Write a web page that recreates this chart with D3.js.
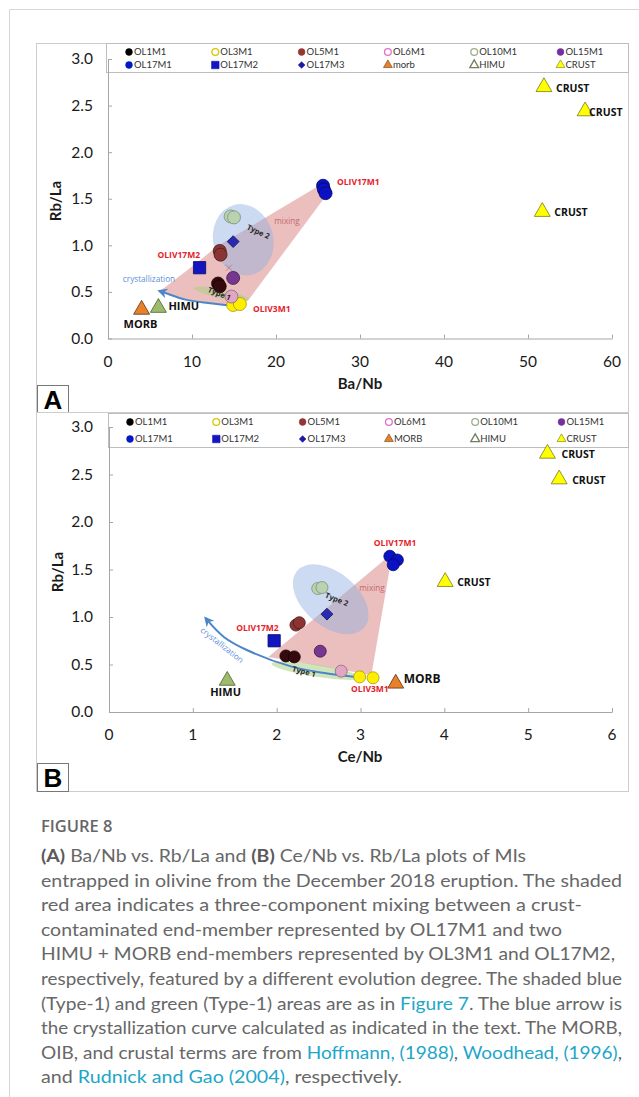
<!DOCTYPE html>
<html>
<head>
<meta charset="utf-8">
<script src="https://cdn.jsdelivr.net/npm/d3@7"></script>
<style>
  html, body { margin: 0; padding: 0; background: #fff; }
  svg { display: block; }
</style>
</head>
<body>
<svg id="fig" width="639" height="1097"></svg>
<script>
// ---------------- data ----------------
const sampleNames = ["OL1M1", "OL3M1", "OL5M1", "OL6M1", "OL10M1", "OL15M1", "OL17M1", "OL17M2", "OL17M3"];
const legendNamesA = ["OL1M1", "OL3M1", "OL5M1", "OL6M1", "OL10M1", "OL15M1", "OL17M1", "OL17M2", "OL17M3", "morb", "HIMU", "CRUST"];
const legendNamesB = ["OL1M1", "OL3M1", "OL5M1", "OL6M1", "OL10M1", "OL15M1", "OL17M1", "OL17M2", "OL17M3", "MORB", "HIMU", "CRUST"];
const yTicks = [0, 0.5, 1.0, 1.5, 2.0, 2.5, 3.0];
const xTicksA = [0, 10, 20, 30, 40, 50, 60];
const xTicksB = [0, 1, 2, 3, 4, 5, 6];

// Panel A: Ba/Nb (x) vs Rb/La (y)
const A_OL1M1  = [[13.1, 0.59], [13.3, 0.56]];
const A_OL3M1  = [[14.9, 0.36], [15.7, 0.37]];
const A_OL5M1  = [[13.3, 0.94], [13.4, 0.90]];
const A_OL6M1  = [[14.7, 0.45]];
const A_OL10M1 = [[14.6, 1.31], [15.0, 1.30]];
const A_OL15M1 = [[14.9, 0.65]];
const A_OL17M1 = [[25.6, 1.64], [25.7, 1.60], [25.9, 1.56]];
const A_OL17M2 = [[10.9, 0.76]];
const A_OL17M3 = [[14.9, 1.04]];
const A_MORB   = [[4.0, 0.31]];
const A_HIMU   = [[6.0, 0.33]];
const A_CRUST  = [[51.9, 2.70], [56.8, 2.44], [51.7, 1.36]];
const A_mixCross = [[14.4, 0.76]];
const A_mixArea = [[6.2, 0.51], [10.4, 0.80], [13.0, 0.99], [25.5, 1.66], [26.1, 1.55], [16.7, 0.41], [14.9, 0.35], [11.9, 0.38], [9.1, 0.42], [7.1, 0.48]];
const A_crystCurve = [[14.9, 0.35], [11.9, 0.38], [9.1, 0.42], [7.1, 0.48], [6.1, 0.51]];
const A_type2Centre = [16.1, 1.06];
const A_type1Centre = [13.5, 0.48];

// Panel B: Ce/Nb (x) vs Rb/La (y)
const B_OL1M1  = [[2.11, 0.59], [2.21, 0.58]];
const B_OL3M1  = [[2.99, 0.37], [3.15, 0.36]];
const B_OL5M1  = [[2.23, 0.915], [2.27, 0.94]];
const B_OL6M1  = [[2.77, 0.43]];
const B_OL10M1 = [[2.49, 1.30], [2.54, 1.31]];
const B_OL15M1 = [[2.52, 0.64]];
const B_OL17M1 = [[3.35, 1.64], [3.44, 1.60], [3.39, 1.55]];
const B_OL17M2 = [[1.97, 0.75]];
const B_OL17M3 = [[2.60, 1.03]];
const B_MORB   = [[3.42, 0.30]];
const B_HIMU   = [[1.41, 0.33]];
const B_CRUST  = [[5.23, 2.72], [5.37, 2.45], [4.01, 1.37]];
const B_mixArea = [[1.90, 0.58], [3.38, 1.67], [3.13, 0.39]];
const B_crystCurve = [[2.97, 0.365], [2.57, 0.41], [2.17, 0.48], [1.65, 0.65], [1.37, 0.79], [1.15, 0.99]];
const B_type2Centre = [2.645, 1.186];
const B_type1Centre = [2.47, 0.435];

// ---------------- styles ----------------
const sampleStyle = {
  OL1M1:  { shape: "circle",  fill: "#330a0e", stroke: "#1a0000", legFill: "#000",    legStroke: "#000" },
  OL3M1:  { shape: "circle",  fill: "#ffee00", stroke: "#a89a00", legFill: "#fff",    legStroke: "#d8c800" },
  OL5M1:  { shape: "circle",  fill: "#8a3434", stroke: "#4a1a1a", legFill: "#943634", legStroke: "#943634" },
  OL6M1:  { shape: "circle",  fill: "#e3a5c4", stroke: "#8a6a7a", legFill: "#fff",    legStroke: "#e070d0" },
  OL10M1: { shape: "circle",  fill: "#b9d3b1", stroke: "#7e8f78", legFill: "#fff",    legStroke: "#9aae90" },
  OL15M1: { shape: "circle",  fill: "#78378e", stroke: "#3e1a4e", legFill: "#7030a0", legStroke: "#7030a0" },
  OL17M1: { shape: "circle",  fill: "#0a12c4", stroke: "#06086a", legFill: "#0018c8", legStroke: "#0018c8" },
  OL17M2: { shape: "square",  fill: "#1414c0", stroke: "#08086a", legFill: "#1414c0", legStroke: "#1414c0" },
  OL17M3: { shape: "diamond", fill: "#2a2ab4", stroke: "#14145a", legFill: "#1a1aa8", legStroke: "#1a1aa8" },
  MORB:   { shape: "triangle", fill: "#e8812c", stroke: "#5a3010", legFill: "#e8812c", legStroke: "#6a3a10" },
  HIMU:   { shape: "triangle", fill: "#9dbb6a", stroke: "#4e5e36", legFill: "#fff",    legStroke: "#6f7f5f" },
  CRUST:  { shape: "triangle", fill: "#ffff00", stroke: "#7a7a20", legFill: "#ffff00", legStroke: "#6a7a20" }
};
const legendStyleKeys = ["OL1M1", "OL3M1", "OL5M1", "OL6M1", "OL10M1", "OL15M1", "OL17M1", "OL17M2", "OL17M3", "MORB", "HIMU", "CRUST"];

const FONT = "Lato, 'Open Sans', sans-serif";
const svg = d3.select("#fig");

// page container edge
svg.append("path").attr("d", "M9.5,1097V9.5H639").attr("fill", "none").attr("stroke", "#d6d6d6");

const defs = svg.append("defs");
defs.append("marker").attr("id", "arrowHead").attr("viewBox", "0 0 10 10")
  .attr("refX", 8).attr("refY", 5).attr("markerWidth", 5).attr("markerHeight", 5)
  .attr("orient", "auto-start-reverse")
  .append("path").attr("d", "M0,0L10,5L0,10L3,5Z").attr("fill", "#4a86c8");

function symbolPath(shape, size) {
  if (shape === "square") return d3.symbol(d3.symbolSquare, size)();
  if (shape === "diamond") return d3.symbol(d3.symbolSquare, size)();
  if (shape === "triangle") return d3.symbol(d3.symbolTriangle, size)();
  return d3.symbol(d3.symbolCircle, size)();
}

function drawPanel(cfg) {
  const g = svg.append("g");
  const [fx0, fy0, fx1, fy1] = cfg.frame;
  g.append("rect").attr("x", fx0 + 0.5).attr("y", fy0 + 0.5)
    .attr("width", fx1 - fx0).attr("height", fy1 - fy0)
    .attr("fill", "#fff").attr("stroke", "#cdcdcd");

  const x = d3.scaleLinear().domain(cfg.xDomain).range([cfg.plot.x0, cfg.plot.x1]);
  const y = d3.scaleLinear().domain([0, 3]).range([cfg.plot.y0, cfg.plot.y1]);
  const line = d3.line().x(d => x(d[0])).y(d => y(d[1]));

  // legend box
  const [lx0, ly0, lx1, ly1] = cfg.legendBox;
  g.append("rect").attr("x", lx0 + 0.5).attr("y", ly0 + 0.5)
    .attr("width", lx1 - lx0).attr("height", ly1 - ly0)
    .attr("fill", "#fff").attr("stroke", "#bdbdbd");
  cfg.legendNames.forEach((name, i) => {
    const col = i % 6, row = Math.floor(i / 6);
    const cx = cfg.legendX0 + col * cfg.legendDx;
    const cy = cfg.legendRows[row];
    const st = sampleStyle[legendStyleKeys[i]];
    const size = st.shape === "circle" ? 36 : st.shape === "square" ? 56 : st.shape === "diamond" ? 22 : 34;
    g.append("path").attr("d", symbolPath(st.shape, size))
      .attr("transform", `translate(${cx},${cy})` + (st.shape === "diamond" ? " rotate(45)" : ""))
      .attr("fill", st.legFill).attr("stroke", st.legStroke)
      .attr("stroke-width", st.legFill === "#fff" ? 1.3 : 0.6);
    g.append("text").attr("x", cx + 5).attr("y", cy).attr("dy", "0.35em")
      .attr("font-family", FONT).attr("font-size", 9.5).attr("fill", "#333")
      .text(name);
  });

  // shaded areas
  g.append("path").attr("d", line(cfg.mixArea) + "Z")
    .attr("fill", "#d97f7f").attr("fill-opacity", 0.5);
  const e2 = cfg.type2;
  g.append("ellipse").attr("cx", x(e2.c[0])).attr("cy", y(e2.c[1]))
    .attr("rx", e2.rx).attr("ry", e2.ry)
    .attr("transform", `rotate(${e2.rot},${x(e2.c[0])},${y(e2.c[1])})`)
    .attr("fill", "#8fb0e0").attr("fill-opacity", 0.45);
  const e1 = cfg.type1;
  g.append("ellipse").attr("cx", x(e1.c[0])).attr("cy", y(e1.c[1]))
    .attr("rx", e1.rx).attr("ry", e1.ry)
    .attr("transform", `rotate(${e1.rot},${x(e1.c[0])},${y(e1.c[1])})`)
    .attr("fill", "#a9cf84").attr("fill-opacity", 0.55);

  // crystallization curve
  g.append("path").attr("d", d3.line().x(d => x(d[0])).y(d => y(d[1])).curve(d3.curveCatmullRom)(cfg.cryst))
    .attr("fill", "none").attr("stroke", "#4a86c8").attr("stroke-width", 2)
    .attr("marker-end", "url(#arrowHead)");

  if (cfg.cross) {
    cfg.cross.forEach(d => {
      g.append("path").attr("d", "M-3,-3L3,3M-3,3L3,-3")
        .attr("transform", `translate(${x(d[0])},${y(d[1])})`)
        .attr("stroke", "#a88a98").attr("stroke-width", 1);
    });
  }

  // sample points
  sampleNames.forEach(name => {
    const st = sampleStyle[name];
    cfg.samples[name].forEach(d => {
      const px = x(d[0]), py = y(d[1]);
      if (st.shape === "circle") {
        g.append("circle").attr("cx", px).attr("cy", py).attr("r", cfg.r)
          .attr("fill", st.fill).attr("stroke", st.stroke).attr("stroke-width", 0.8);
      } else {
        const size = st.shape === "square" ? 150 : 70;
        g.append("path").attr("d", symbolPath(st.shape, size))
          .attr("transform", `translate(${px},${py})` + (st.shape === "diamond" ? " rotate(45)" : ""))
          .attr("fill", st.fill).attr("stroke", st.stroke).attr("stroke-width", 0.8);
      }
    });
  });
  // end-member triangles
  [["MORB", cfg.morb], ["HIMU", cfg.himu], ["CRUST", cfg.crust]].forEach(([key, pts]) => {
    const st = sampleStyle[key];
    pts.forEach(d => {
      g.append("path").attr("d", symbolPath("triangle", cfg.triSize))
        .attr("transform", `translate(${x(d[0])},${y(d[1])})`)
        .attr("fill", st.fill).attr("stroke", st.stroke).attr("stroke-width", 0.8);
    });
  });

  // annotations
  const txt = (px, py, s, o) => {
    const t = g.append("text").attr("x", px).attr("y", py)
      .attr("font-family", o.family || "'Open Sans', sans-serif")
      .attr("font-size", o.size).attr("font-weight", o.weight || "normal")
      .attr("fill", o.fill || "#000").attr("text-anchor", o.anchor || "start")
      .attr("dy", "0.35em").text(s);
    if (o.rot) t.attr("transform", `rotate(${o.rot},${px},${py})`);
    return t;
  };
  const red = { size: 8.5, weight: "bold", fill: "#e5222a" };
  const p17m1 = cfg.samples.OL17M1[0], p17m2 = cfg.samples.OL17M2[0], p3m1 = cfg.samples.OL3M1[1];
  txt(x(p17m1[0]) + cfg.lab.m1[0], y(p17m1[1]) + cfg.lab.m1[1], "OLIV17M1", red);
  txt(x(p17m2[0]) + cfg.lab.m2[0], y(p17m2[1]) + cfg.lab.m2[1], "OLIV17M2", red);
  txt(x(p3m1[0]) + cfg.lab.m3[0], y(p3m1[1]) + cfg.lab.m3[1], "OLIV3M1", red);
  txt(x(cfg.morb[0][0]) + cfg.lab.morb[0], y(cfg.morb[0][1]) + cfg.lab.morb[1], "MORB",
      { size: cfg.lab.morbSize, weight: "bold", fill: "#111" });
  txt(x(cfg.himu[0][0]) + cfg.lab.himu[0], y(cfg.himu[0][1]) + cfg.lab.himu[1], "HIMU",
      { size: cfg.lab.himuSize, weight: "bold", fill: "#111" });
  cfg.crust.forEach((d, i) => {
    txt(x(d[0]) + cfg.lab.crust[i][0], y(d[1]) + cfg.lab.crust[i][1], "CRUST",
        { size: 10.5, weight: "bold", fill: "#111" });
  });
  const cl = cfg.lab.cryst;
  txt(cl.x, cl.y, "crystallization", { size: 8.2, fill: "#5b8fd6", anchor: "middle", rot: cl.rot });
  txt(x(e2.c[0]) + cfg.lab.t2[0], y(e2.c[1]) + cfg.lab.t2[1], "Type 2",
      { size: 7.5, weight: "bold", fill: "#2a2a2a", anchor: "middle", rot: cfg.lab.t2[2] });
  txt(x(e1.c[0]) + cfg.lab.t1[0], y(e1.c[1]) + cfg.lab.t1[1], "Type 1",
      { size: 7.5, weight: "bold", fill: "#2a2a2a", anchor: "middle", rot: cfg.lab.t1[2] });
  txt(cfg.lab.mix[0], cfg.lab.mix[1], "mixing", { size: 8.2, fill: "#c06a6a", anchor: "middle" });

  // axes
  const xAxis = g.append("g").attr("transform", `translate(0,${cfg.plot.y0})`)
    .call(d3.axisBottom(x).tickValues(cfg.xTicks).tickSizeInner(-4).tickSizeOuter(0).tickFormat(""));
  const yAxis = g.append("g").attr("transform", `translate(${cfg.plot.x0},0)`)
    .call(d3.axisLeft(y).tickValues(yTicks).tickSizeInner(-4).tickSizeOuter(0).tickFormat(""));
  [xAxis, yAxis].forEach(a => {
    a.selectAll("path,line").attr("stroke", "#a6a6a6");
  });
  cfg.xTicks.forEach(v => {
    g.append("text").attr("x", x(v)).attr("y", cfg.xLabelY).attr("dy", "0.35em")
      .attr("text-anchor", "middle").attr("font-family", FONT).attr("font-size", 15.5)
      .attr("fill", "#1a1a1a").text(v);
  });
  yTicks.forEach(v => {
    g.append("text").attr("x", 93).attr("y", y(v)).attr("dy", "0.35em")
      .attr("text-anchor", "end").attr("font-family", FONT).attr("font-size", 15.5)
      .attr("fill", "#1a1a1a").text(d3.format(".1f")(v));
  });
  g.append("text").attr("x", 0).attr("y", 0).attr("dy", "0.35em")
    .attr("transform", `translate(${cfg.yTitle[0]},${cfg.yTitle[1]}) rotate(-90)`)
    .attr("text-anchor", "middle").attr("font-family", FONT).attr("font-weight", "bold")
    .attr("font-size", 15).attr("fill", "#1a1a1a").text("Rb/La");
  g.append("text").attr("x", cfg.xTitle[0]).attr("y", cfg.xTitle[1]).attr("dy", "0.35em")
    .attr("text-anchor", "middle").attr("font-family", FONT).attr("font-weight", "bold")
    .attr("font-size", 15).attr("fill", "#1a1a1a").text(cfg.xTitleText);

  // panel letter
  const [bx0, by0, bx1, by1] = cfg.letterBox;
  g.append("rect").attr("x", bx0 + 0.5).attr("y", by0 + 0.5)
    .attr("width", bx1 - bx0).attr("height", by1 - by0)
    .attr("fill", "#fff").attr("stroke", "#777");
  g.append("text").attr("x", (bx0 + bx1) / 2 + 0.5).attr("y", (by0 + by1) / 2 + 1).attr("dy", "0.36em")
    .attr("text-anchor", "middle").attr("font-family", "'Liberation Sans', Arial, sans-serif")
    .attr("font-weight", "bold").attr("font-size", 26).attr("fill", "#000").text(cfg.letter);
}

drawPanel({
  letter: "A",
  frame: [36, 43, 628, 412],
  plot: { x0: 108, x1: 612, y0: 338.5, y1: 59 },
  xDomain: [0, 60], xTicks: xTicksA, xLabelY: 362, xTitle: [360, 384], xTitleText: "Ba/Nb",
  yTitle: [56, 201],
  legendBox: [106, 43, 628, 72], legendRows: [52, 65], legendX0: 129, legendDx: 86.3,
  legendNames: legendNamesA,
  letterBox: [37, 385, 68, 412],
  samples: { OL1M1: A_OL1M1, OL3M1: A_OL3M1, OL5M1: A_OL5M1, OL6M1: A_OL6M1, OL10M1: A_OL10M1,
             OL15M1: A_OL15M1, OL17M1: A_OL17M1, OL17M2: A_OL17M2, OL17M3: A_OL17M3 },
  morb: A_MORB, himu: A_HIMU, crust: A_CRUST, cross: A_mixCross,
  mixArea: A_mixArea, cryst: A_crystCurve,
  type2: { c: A_type2Centre, rx: 30, ry: 36, rot: -15 },
  type1: { c: A_type1Centre, rx: 28, ry: 4.5, rot: 12 },
  r: 6.5, triSize: 110,
  lab: {
    m1: [14, -4], m2: [-42, -13], m3: [13, 5],
    morb: [-18, 15], morbSize: 11, himu: [10, -2], himuSize: 11,
    crust: [[12, 1], [4, 1], [12, 1]],
    cryst: { x: 149, y: 279, rot: 0 },
    t2: [15, -8, 25], t1: [-2, 0, 22],
    mix: [287, 221]
  }
});

drawPanel({
  letter: "B",
  frame: [36, 412, 628, 791],
  plot: { x0: 109, x1: 612, y0: 712, y1: 427 },
  xDomain: [0, 6], xTicks: xTicksB, xLabelY: 735, xTitle: [360, 757], xTitleText: "Ce/Nb",
  yTitle: [58, 572],
  legendBox: [108, 413, 628, 447], legendRows: [422, 439], legendX0: 130, legendDx: 86.3,
  legendNames: legendNamesB,
  letterBox: [37, 763, 68, 791],
  samples: { OL1M1: B_OL1M1, OL3M1: B_OL3M1, OL5M1: B_OL5M1, OL6M1: B_OL6M1, OL10M1: B_OL10M1,
             OL15M1: B_OL15M1, OL17M1: B_OL17M1, OL17M2: B_OL17M2, OL17M3: B_OL17M3 },
  morb: B_MORB, himu: B_HIMU, crust: B_CRUST, cross: null,
  mixArea: B_mixArea, cryst: B_crystCurve,
  type2: { c: B_type2Centre, rx: 44, ry: 27, rot: 40 },
  type1: { c: B_type1Centre, rx: 45, ry: 6, rot: 9 },
  r: 6, triSize: 110,
  lab: {
    m1: [-16, -13], m2: [-38, -13], m3: [-22, 11],
    morb: [8, -5], morbSize: 12, himu: [-17, 11], himuSize: 11,
    crust: [[14, 1], [13, 1], [12, 0]],
    cryst: { x: 222, y: 645, rot: 38 },
    t2: [6, 0, 22], t1: [-12, 1, 15],
    mix: [372, 588]
  }
});

// ---------------- caption ----------------
const captionLines = [
  [["(A)", "b"], [" Ba/Nb vs. Rb/La and ", "n"], ["(B)", "b"], [" Ce/Nb vs. Rb/La plots of MIs", "n"]],
  [["entrapped in olivine from the December 2018 eruption. The shaded", "n"]],
  [["red area indicates a three-component mixing between a crust-", "n"]],
  [["contaminated end-member represented by OL17M1 and two", "n"]],
  [["HIMU + MORB end-members represented by OL3M1 and OL17M2,", "n"]],
  [["respectively, featured by a different evolution degree. The shaded blue", "n"]],
  [["(Type-1) and green (Type-1) areas are as in ", "n"], ["Figure 7", "l"], [". The blue arrow is", "n"]],
  [["the crystallization curve calculated as indicated in the text. The MORB,", "n"]],
  [["OIB, and crustal terms are from ", "n"], ["Hoffmann, (1988)", "l"], [", ", "n"], ["Woodhead, (1996)", "l"], [",", "n"]],
  [["and ", "n"], ["Rudnick and Gao (2004)", "l"], [", respectively.", "n"]]
];
const captionWidths = [485, 581, 541, 521, 574, 581, 581, 581, 581, 361];
const capFont = "Lato, 'Open Sans', sans-serif";

svg.append("text").attr("x", 41).attr("y", 832)
  .attr("font-family", "'Open Sans', sans-serif").attr("font-size", 16.5).attr("font-weight", 600)
  .attr("fill", "#666").text("FIGURE 8");

captionLines.forEach((segs, i) => {
  const t = svg.append("text").attr("x", 41).attr("y", 862 + i * 24.6)
    .attr("font-family", capFont).attr("font-size", 16.5).attr("fill", "#676767")
    .attr("textLength", captionWidths[i]).attr("lengthAdjust", "spacingAndGlyphs");
  segs.forEach(([s, k]) => {
    const ts = t.append("tspan").text(s);
    if (k === "b") ts.attr("font-weight", 700).attr("fill", "#5a5a5a");
    if (k === "l") ts.attr("fill", "#22a6c8");
  });
});
</script>
</body>
</html>
